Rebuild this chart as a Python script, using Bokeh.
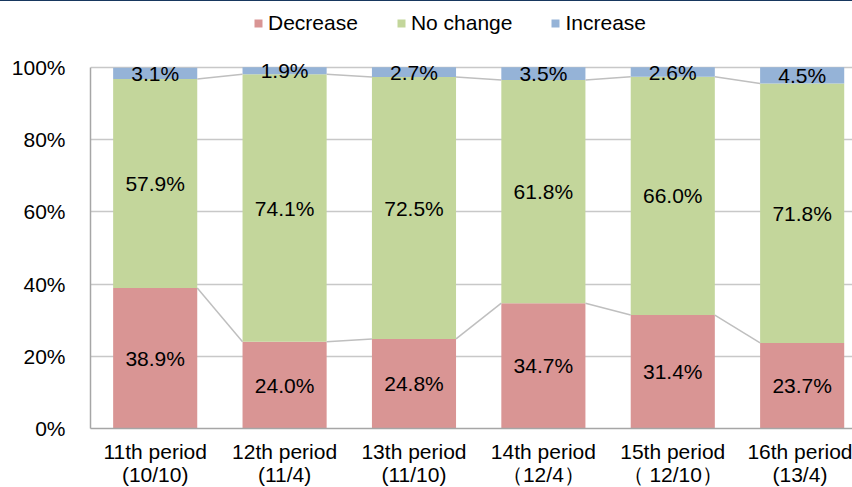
from bokeh.plotting import figure
from bokeh.models import (ColumnDataSource, Range1d, FixedTicker, NumeralTickFormatter,
                          Legend, LegendItem)
from bokeh.embed import file_html
from bokeh.resources import INLINE
from bokeh.core.properties import value

# ---- data ----
periods = ["11th period\n(10/10)", "12th period\n(11/4)", "13th period\n(11/10)",
           "14th period\n\uff0812/4\uff09", "15th period\n\uff08 12/10\uff09", "16th period\n(13/4)"]
decrease = [38.9, 24.0, 24.8, 34.7, 31.4, 23.7]
no_change = [57.9, 74.1, 72.5, 61.8, 66.0, 71.8]
increase = [3.1, 1.9, 2.7, 3.5, 2.6, 4.5]
y_ticks = [0, 0.2, 0.4, 0.6, 0.8, 1.0]

C_DEC = "#D99594"
C_NO = "#C3D69B"
C_INC = "#95B3D7"
FONT = "Liberation Sans"
FS = "21px"
BW = 0.65
PX_PER_UNIT = 362   # pixels from 0% to 100%
FRAME_PX = 428      # frame spans from canvas top down to the 0% line

n = len(periods)
xs = list(range(n))
d = [v / 100 for v in decrease]
nc = [v / 100 for v in no_change]
inc = [v / 100 for v in increase]
b1 = [a + b for a, b in zip(d, nc)]
b2 = [a + b for a, b in zip(b1, inc)]

src = ColumnDataSource(dict(
    x=xs, d=d, b1=b1, b2=b2, zero=[0] * n,
    yd=[v / 2 for v in d],
    yn=[a + b / 2 for a, b in zip(d, nc)],
    yi=[a + b / 2 for a, b in zip(b1, inc)],
    td=[f"{v:.1f}%" for v in decrease],
    tn=[f"{v:.1f}%" for v in no_change],
    ti=[f"{v:.1f}%" for v in increase],
))

p = figure(width=852, height=487, output_backend="svg", toolbar_location=None,
           x_range=Range1d(-0.5, 5.389), y_range=Range1d(0, FRAME_PX / PX_PER_UNIT),
           min_border_left=90, min_border_top=0, min_border_right=0,
           min_border_bottom=487 - FRAME_PX)
p.outline_line_color = None
p.background_fill_color = "white"
p.border_fill_color = "white"

r_dec = p.vbar(x="x", width=BW, bottom="zero", top="d", source=src,
               fill_color=C_DEC, line_color=None)
r_no = p.vbar(x="x", width=BW, bottom="d", top="b1", source=src,
              fill_color=C_NO, line_color=None)
r_inc = p.vbar(x="x", width=BW, bottom="b1", top="b2", source=src,
               fill_color=C_INC, line_color=None)

# connector lines between bars
x0 = [x + BW / 2 for x in xs[:-1]]
x1 = [x - BW / 2 for x in xs[1:]]
for cum in (d, b1):
    p.segment(x0=x0, y0=cum[:-1], x1=x1, y1=cum[1:], line_color="#BFBFBF", line_width=1.5)

for ycol, tcol in (("yd", "td"), ("yn", "tn"), ("yi", "ti")):
    p.text(x="x", y=ycol, text=tcol, source=src, text_align="center",
           text_baseline="middle", text_font=value(FONT), text_font_size=FS,
           text_color="black")

# axes
p.xaxis.ticker = FixedTicker(ticks=xs)
p.xaxis.major_label_overrides = {i: lab for i, lab in enumerate(periods)}
p.xaxis.major_label_standoff = 5
p.xaxis.major_label_text_line_height = 1.0
p.yaxis.ticker = FixedTicker(ticks=y_ticks)
p.yaxis.formatter = NumeralTickFormatter(format="0%")
p.yaxis.major_label_standoff = 19
p.yaxis.bounds = (0, 1)
for ax in (p.xaxis, p.yaxis):
    ax.axis_line_color = "#A6A6A6"
    ax.axis_line_width = 1.5
    ax.major_tick_line_color = None
    ax.minor_tick_line_color = None
    ax.major_label_text_font = FONT
    ax.major_label_text_font_size = FS
    ax.major_label_text_color = "black"
p.xgrid.grid_line_color = None
p.ygrid.grid_line_color = "#C8C8C8"
p.ygrid.grid_line_width = 1.3

legend = Legend(items=[LegendItem(label="Decrease", renderers=[r_dec]),
                       LegendItem(label="No change", renderers=[r_no]),
                       LegendItem(label="Increase", renderers=[r_inc])],
                orientation="horizontal", location=(163, 393),
                glyph_width=10, glyph_height=10, label_standoff=5, spacing=38,
                padding=0, margin=0, border_line_color=None,
                background_fill_alpha=0,
                label_text_font=FONT, label_text_font_size=FS, label_text_color="black")
p.add_layout(legend, "center")
p.styles = {"border-top": "1px solid #17375E"}

open("out.html", "w").write(file_html(p, INLINE))
